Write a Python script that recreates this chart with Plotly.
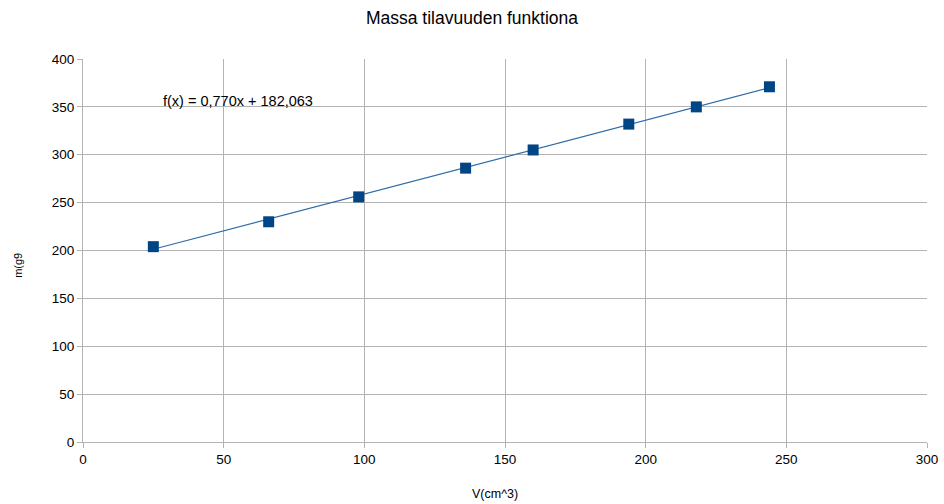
import numpy as np
import plotly.graph_objects as go

# Data
volume_cm3 = [25, 66, 98, 136, 160, 194, 218, 244]
mass_g = [204, 230, 256, 286, 305, 332, 350, 371]

# Linear trend line coefficients shown in the chart
slope = 0.770
intercept = 182.063

x_ticks = [0, 50, 100, 150, 200, 250, 300]
y_ticks = [0, 50, 100, 150, 200, 250, 300, 350, 400]

title_text = "Massa tilavuuden funktiona"
x_title = "V(cm^3)"
y_title = "m(g9"
eq_text = "f(x) = 0,770x + 182,063"

trend_x = np.array([min(volume_cm3), max(volume_cm3)])
trend_y = slope * trend_x + intercept

font_family = "Liberation Sans, Arial, sans-serif"
grid_col = "#b3b3b3"

fig = go.Figure()
fig.add_trace(go.Scatter(
    x=trend_x, y=trend_y, mode="lines",
    line=dict(color="#2f6ca8", width=1.2),
    showlegend=False, hoverinfo="skip",
))
fig.add_trace(go.Scatter(
    x=volume_cm3, y=mass_g, mode="markers",
    marker=dict(symbol="square", size=11, color="#004586"),
    showlegend=False,
))

fig.add_annotation(
    x=27.6, y=356, xref="x", yref="y", text=eq_text, showarrow=False,
    xanchor="left", yanchor="middle",
    font=dict(family=font_family, size=14.5, color="#000000"),
)
# axis titles placed as in the reference (slightly off-centre)
fig.add_annotation(
    x=0.488, y=-0.136, xref="paper", yref="paper", text=x_title, showarrow=False,
    xanchor="center", yanchor="middle",
    font=dict(family=font_family, size=12.5, color="#000000"),
)
fig.add_annotation(
    x=-0.077, y=0.46, xref="paper", yref="paper", text=y_title, showarrow=False,
    xanchor="center", yanchor="middle", textangle=-90,
    font=dict(family=font_family, size=11, color="#000000"),
)

fig.update_layout(
    width=944, height=504,
    paper_bgcolor="white", plot_bgcolor="white",
    margin=dict(l=83, r=17, t=59, b=62, autoexpand=False),
    font=dict(family=font_family, size=13, color="#000000"),
    title=dict(text=title_text, x=0.5, xanchor="center", y=0.964, yanchor="middle",
               font=dict(family=font_family, size=17.5, color="#000000")),
)
fig.update_xaxes(
    range=[0, 300], tickvals=x_ticks, showgrid=True, gridcolor=grid_col, gridwidth=1,
    showline=True, linecolor=grid_col, linewidth=1, zeroline=False, automargin=False,
    ticks="outside", ticklen=5, tickcolor=grid_col,
    tickfont=dict(family=font_family, size=13.5, color="#000000"),
)
fig.update_yaxes(
    range=[0, 400], tickvals=y_ticks, showgrid=True, gridcolor=grid_col, gridwidth=1,
    showline=True, linecolor=grid_col, linewidth=1, zeroline=False, automargin=False,
    ticks="outside", ticklen=5, tickcolor=grid_col,
    tickfont=dict(family=font_family, size=13.5, color="#000000"),
)

fig.write_html(
    "out.html",
    config={"displayModeBar": False},
    post_script="document.body.style.margin='0';document.body.style.overflow='hidden';",
)
